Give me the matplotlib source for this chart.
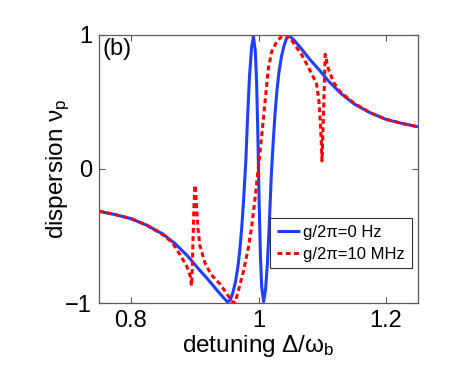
import matplotlib
matplotlib.use("Agg")
import matplotlib.pyplot as plt

plt.rcParams['font.family'] = ['Liberation Sans', 'DejaVu Sans']
plt.rcParams['mathtext.fontset'] = 'custom'
plt.rcParams['mathtext.rm'] = 'Liberation Sans'
plt.rcParams['mathtext.it'] = 'Liberation Sans'
plt.rcParams['mathtext.bf'] = 'Liberation Sans:bold'

# ---- data ----
x_g0 = [0.750, 0.775, 0.800, 0.825, 0.850, 0.870, 0.890, 0.905, 0.920, 0.935,
        0.945, 0.952, 0.956, 0.960, 0.964, 0.968, 0.971, 0.974, 0.977, 0.980,
        0.983, 0.986, 0.989, 0.992, 0.995, 0.997, 0.999, 1.000, 1.001, 1.003,
        1.005, 1.008, 1.011, 1.014, 1.017, 1.020, 1.023, 1.026, 1.029, 1.032,
        1.036, 1.040, 1.044, 1.048, 1.055, 1.065, 1.080, 1.095, 1.110, 1.130,
        1.150, 1.175, 1.200, 1.225, 1.250]
y_g0 = [-0.315, -0.340, -0.370, -0.420, -0.485, -0.560, -0.655, -0.740, -0.820, -0.905,
        -0.960, -0.995, -0.975, -0.920, -0.840, -0.720, -0.590, -0.420, -0.200, 0.050,
        0.400, 0.700, 0.900, 0.990, 0.880, 0.650, 0.250, 0.000, -0.250, -0.650,
        -0.880, -0.990, -0.900, -0.700, -0.400, -0.050, 0.200, 0.420, 0.590, 0.720,
        0.840, 0.920, 0.975, 0.995, 0.965, 0.910, 0.820, 0.740, 0.655, 0.560,
        0.485, 0.420, 0.370, 0.340, 0.315]

x_g10 = [0.750, 0.775, 0.800, 0.825, 0.850, 0.865, 0.877, 0.888, 0.893, 0.895,
         0.8962, 0.8975, 0.899, 0.9005, 0.9027, 0.9048, 0.908, 0.916, 0.926, 0.940,
         0.950, 0.958, 0.963, 0.968, 0.976, 0.984, 0.989, 0.9945, 0.9995, 1.005,
         1.0102, 1.0154, 1.0206, 1.0285, 1.0363, 1.042, 1.050, 1.057, 1.068, 1.078,
         1.0855, 1.0912, 1.0948, 1.0975, 1.0995, 1.1016, 1.1032, 1.1045, 1.1094, 1.1172,
         1.1277, 1.150, 1.175, 1.200, 1.225, 1.250]
y_g10 = [-0.315, -0.340, -0.370, -0.420, -0.490, -0.550, -0.640, -0.730, -0.800, -0.870,
         -0.750, -0.500, -0.260, -0.120, -0.260, -0.430, -0.570, -0.700, -0.790, -0.860,
         -0.930, -0.985, -1.000, -0.915, -0.770, -0.590, -0.440, -0.220, 0.000, 0.250,
         0.500, 0.750, 0.875, 0.950, 0.990, 1.000, 0.975, 0.925, 0.850, 0.760,
         0.690, 0.630, 0.500, 0.300, 0.060, 0.380, 0.630, 0.856, 0.750, 0.650,
         0.577, 0.490, 0.420, 0.370, 0.340, 0.315]

labels = ['g/2π=0 Hz', 'g/2π=10 MHz']
x_ticks = [0.8, 1.0, 1.2]
x_ticklabels = ['0.8', '1', '1.2']
y_ticks = [-1, 0, 1]
y_ticklabels = ['−1', '0', '1']

fig = plt.figure(figsize=(4.69, 3.84), dpi=100)
ax = fig.add_axes([0.2111, 0.2109, 0.6802, 0.6980])

ax.plot(x_g0, y_g0, color='#1f3fff', lw=2.2, label=labels[0], solid_capstyle='butt')
ax.plot(x_g10, y_g10, color='#ff0000', lw=2.2, linestyle=(0, (1.6, 1.1)), label=labels[1])

ax.set_xlim(0.75, 1.25)
ax.set_ylim(-1, 1)
ax.set_xticks(x_ticks)
ax.set_xticklabels(x_ticklabels)
ax.set_yticks(y_ticks)
ax.set_yticklabels(y_ticklabels)

spine_col = '#5a5a5a'
for s in ax.spines.values():
    s.set_color(spine_col)
    s.set_linewidth(0.9)
ax.tick_params(direction='in', length=4, width=0.8, color=spine_col,
               top=True, right=True, labelsize=17, pad=5)

ax.set_xlabel(r'detuning $\Delta/\omega_\mathrm{b}$', fontsize=17.5)
ax.set_ylabel(r'dispersion $\nu_\mathrm{p}$', fontsize=17.5)
ax.xaxis.set_label_coords(0.5, -0.112)
ax.yaxis.set_label_coords(-0.085, 0.5)

ax.text(0.012, 0.99, '(b)', transform=ax.transAxes, ha='left', va='top', fontsize=17)

leg = ax.legend(loc='lower right', bbox_to_anchor=(0.98, 0.13), fontsize=12,
                handlelength=1.4, handletextpad=0.2, borderpad=0.4,
                labelspacing=0.4, borderaxespad=0.0, fancybox=False, framealpha=1)
leg.get_frame().set_edgecolor('#333333')
leg.get_frame().set_linewidth(0.8)

fig.savefig('out.png', dpi=100)
